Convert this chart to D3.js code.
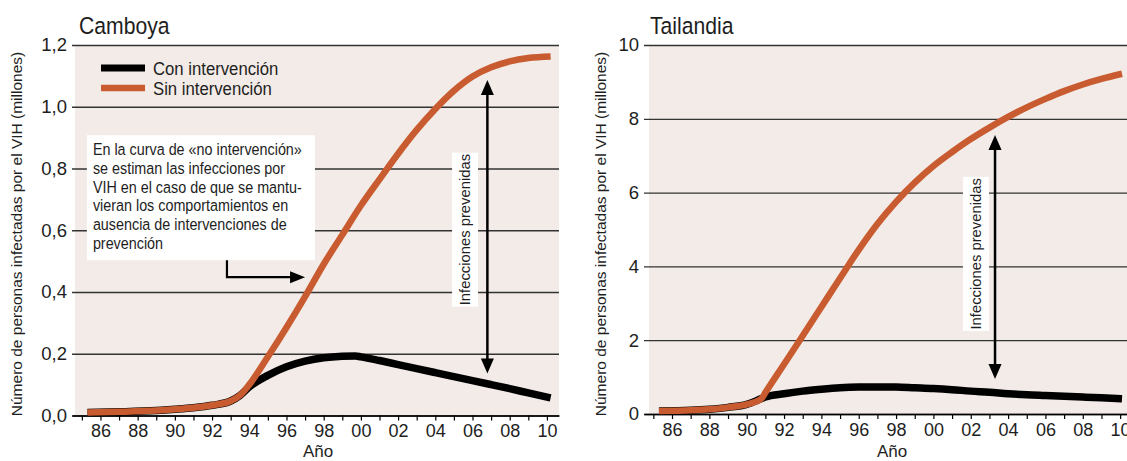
<!DOCTYPE html>
<html>
<head>
<meta charset="utf-8">
<script src="https://cdn.jsdelivr.net/npm/d3@7/dist/d3.min.js"></script>
<style>
  html, body { margin: 0; padding: 0; background: #ffffff; }
  svg { display: block; }
</style>
</head>
<body>
<svg id="chart" width="1127" height="461"></svg>
<script>
// ---------------- DATA ----------------
const xTickYears = d3.range(1985, 2011);
const xTickLabels = ["86","88","90","92","94","96","98","00","02","04","06","08","10"];
const xLabelYears = [1986,1988,1990,1992,1994,1996,1998,2000,2002,2004,2006,2008,2010];

const camYTicks = [0, 0.2, 0.4, 0.6, 0.8, 1.0, 1.2];
const camYLabels = ["0,0","0,2","0,4","0,6","0,8","1,0","1,2"];
const thaYTicks = [0, 2, 4, 6, 8, 10];
const thaYLabels = ["0","2","4","6","8","10"];

// Camboya - Sin intervención
const camSinYears = [1985.3,1987,1989,1990,1991,1992,1993,1993.5,1994,1995,1996,1997,1998,1999,2000,2001,2002,2003,2004,2005,2006,2007,2008,2009,2010.2];
const camSinValues = [0.01,0.012,0.016,0.02,0.025,0.033,0.047,0.065,0.1,0.19,0.285,0.385,0.49,0.585,0.68,0.765,0.848,0.925,0.993,1.052,1.098,1.128,1.147,1.158,1.163];
// Camboya - Con intervención
const camConYears = [1985.3,1987,1989,1990,1991,1992,1993,1993.5,1994,1995,1996,1997,1998,1999,1999.7,2000,2001,2002,2003,2004,2005,2006,2007,2008,2009,2010.2];
const camConValues = [0.01,0.012,0.016,0.02,0.025,0.033,0.047,0.065,0.093,0.13,0.158,0.176,0.187,0.192,0.193,0.19,0.178,0.165,0.152,0.139,0.126,0.113,0.1,0.087,0.073,0.057];

// Tailandia - Sin intervención
const thaSinYears = [1985.3,1987,1988,1989,1990,1990.8,1991,1992,1993,1994,1995,1996,1997,1998,1999,2000,2001,2002,2003,2004,2005,2006,2007,2008,2009,2010.1];
const thaSinValues = [0.08,0.1,0.13,0.18,0.26,0.42,0.58,1.35,2.12,2.9,3.68,4.45,5.15,5.75,6.27,6.72,7.1,7.45,7.76,8.05,8.31,8.54,8.75,8.93,9.08,9.22];
// Tailandia - Con intervención
const thaConYears = [1985.3,1987,1988,1989,1990,1990.8,1991,1992,1993,1994,1995,1996,1997,1998,1999,2000,2001,2002,2003,2004,2005,2006,2007,2008,2009,2010.1];
const thaConValues = [0.08,0.1,0.13,0.18,0.26,0.42,0.46,0.55,0.62,0.67,0.71,0.73,0.735,0.73,0.71,0.69,0.66,0.62,0.59,0.55,0.52,0.5,0.48,0.46,0.44,0.41];

const legendLabels = ["Con intervención", "Sin intervención"];
const annotationLines = [
  "En la curva de «no intervención»",
  "se estiman las infecciones por",
  "VIH en el caso de que se mantu-",
  "vieran los comportamientos en",
  "ausencia de intervenciones de",
  "prevención"
];

// ---------------- STYLE ----------------
const FONT = "'Liberation Sans', Arial, Helvetica, sans-serif";
const BG = "#f3ebe7";
const ORANGE = "#c85c30";
const GRID = "#333333";
const TXT = "#1e1e1e";

const svg = d3.select("#chart");

function zip(xs, ys) { return xs.map((x, i) => ({ x, y: ys[i] })); }

function addText(g, o) {
  return g.append("text")
    .attr("transform", `translate(${o.x},${o.y})${o.rotate ? " rotate(-90)" : ""} scale(${o.sx || 1},1)`)
    .attr("text-anchor", o.anchor || "start")
    .attr("font-family", FONT)
    .attr("font-size", o.size)
    .attr("fill", TXT)
    .text(o.text);
}

function drawPanel(cfg) {
  const g = svg.append("g");
  const x = d3.scaleLinear().domain(cfg.xDomain).range([cfg.axisLeft, cfg.axisRight]);
  const y = d3.scaleLinear().domain(cfg.yDomain).range([cfg.bottom, cfg.top]);

  // background
  g.append("rect")
    .attr("x", cfg.bgLeft).attr("y", y(cfg.yDomain[1]))
    .attr("width", cfg.axisRight - cfg.bgLeft)
    .attr("height", y(cfg.yDomain[0]) - y(cfg.yDomain[1]))
    .attr("fill", BG);

  // y gridlines + labels
  const yAxis = d3.axisLeft(y)
    .tickValues(cfg.yTicks)
    .tickFormat((d, i) => cfg.yLabels[i])
    .tickSize(-(cfg.axisRight - cfg.axisLeft))
    .tickPadding(5);
  const ya = g.append("g").attr("transform", `translate(${cfg.axisLeft},0)`).call(yAxis);
  ya.select(".domain").remove();
  ya.selectAll(".tick line").attr("stroke", GRID).attr("stroke-width", 1.3);
  ya.selectAll(".tick text").attr("font-family", FONT).attr("font-size", 18.5).attr("fill", TXT);

  // x axis
  const xAxis = d3.axisBottom(x)
    .tickValues(xTickYears)
    .tickFormat(d => { const i = xLabelYears.indexOf(d); return i >= 0 ? xTickLabels[i] : ""; })
    .tickSize(5).tickSizeOuter(0).tickPadding(4);
  const xa = g.append("g").attr("transform", `translate(0,${cfg.bottom})`).call(xAxis);
  xa.select(".domain").attr("stroke", "#000").attr("stroke-width", 1.6);
  xa.selectAll(".tick line").attr("stroke", "#000").attr("stroke-width", 1.2);
  xa.selectAll(".tick text").attr("font-family", FONT).attr("font-size", 18).attr("fill", TXT);

  // lines
  const line = d3.line().x(d => x(d.x)).y(d => y(d.y)).curve(d3.curveMonotoneX);
  g.append("path").datum(zip(cfg.conYears, cfg.conValues))
    .attr("d", line).attr("fill", "none").attr("stroke", "#000")
    .attr("stroke-width", 7.5).attr("stroke-linejoin", "round");
  g.append("path").datum(zip(cfg.sinYears, cfg.sinValues))
    .attr("d", line).attr("fill", "none").attr("stroke", ORANGE)
    .attr("stroke-width", 6.5).attr("stroke-linejoin", "round");

  // title
  addText(g, { x: cfg.titleX, y: 34, text: cfg.title, size: 23.5, sx: 0.9 });

  // y-axis title
  addText(g, { x: cfg.yTitleX, y: 234, text: "Número de personas infectadas por el VIH (millones)",
               size: 15.5, rotate: true, anchor: "middle" });

  // x-axis title
  addText(g, { x: cfg.xTitleX, y: 457, text: "Año", size: 17, anchor: "middle" });

  // double arrow "Infecciones prevenidas"
  const ax = x(cfg.arrowYear), aTop = y(cfg.arrowTop), aBot = y(cfg.arrowBottom);
  const hw = 6.5, hl = 15;
  g.append("line").attr("x1", ax).attr("x2", ax).attr("y1", aTop + hl - 2).attr("y2", aBot - hl + 2)
    .attr("stroke", "#000").attr("stroke-width", 2.5);
  g.append("path").attr("d", `M${ax},${aTop} L${ax - hw},${aTop + hl} L${ax + hw},${aTop + hl} Z`).attr("fill", "#000");
  g.append("path").attr("d", `M${ax},${aBot} L${ax - hw},${aBot - hl} L${ax + hw},${aBot - hl} Z`).attr("fill", "#000");

  const lx = x(cfg.labelYear), ly = y(cfg.labelValue);
  g.append("rect").attr("x", lx - 13).attr("y", ly - 77).attr("width", 26).attr("height", 154).attr("fill", "#fff");
  addText(g, { x: lx + 5, y: ly, text: "Infecciones prevenidas", size: 14.8, rotate: true, anchor: "middle" });

  return { g, x, y };
}

// -------- Camboya --------
const cam = drawPanel({
  title: "Camboya", titleX: 79,
  xDomain: [1984.47, 2010.65], axisLeft: 72, axisRight: 559, bgLeft: 75,
  yDomain: [0, 1.2], bottom: 415.5, top: 45,
  yTicks: camYTicks, yLabels: camYLabels,
  sinYears: camSinYears, sinValues: camSinValues,
  conYears: camConYears, conValues: camConValues,
  yTitleX: 22, xTitleX: 318,
  arrowYear: 2006.8, arrowTop: 1.087, arrowBottom: 0.136,
  labelYear: 2005.6, labelValue: 0.602
});

// legend
const lg = cam.g.append("g");
[["#000", 7], [ORANGE, 6.5]].forEach((s, i) => {
  const yy = 68 + i * 20;
  lg.append("line").attr("x1", 101).attr("x2", 145).attr("y1", yy).attr("y2", yy)
    .attr("stroke", s[0]).attr("stroke-width", s[1]);
  addText(lg, { x: 153, y: yy + 7, text: legendLabels[i], size: 19, sx: 0.88 });
});

// annotation box
{
  const x = cam.x, y = cam.y;
  const bx0 = x(1985.27), bx1 = x(1997.53), by0 = y(0.908), by1 = y(0.503);
  cam.g.append("rect").attr("x", bx0).attr("y", by0).attr("width", bx1 - bx0).attr("height", by1 - by0).attr("fill", "#fff");
  const ag = cam.g.append("g");
  annotationLines.forEach((d, i) => {
    addText(ag, { x: bx0 + 6, y: by0 + 20 + i * 18.7, text: d, size: 16.8, sx: 0.855 });
  });
  const cx = x(1992.8), cy = y(0.448), tip = x(1997.0);
  cam.g.append("path").attr("d", `M${cx},${by1} L${cx},${cy} L${tip - 14},${cy}`)
    .attr("fill", "none").attr("stroke", "#000").attr("stroke-width", 2.2);
  cam.g.append("path").attr("d", `M${tip},${cy} L${tip - 15},${cy - 6} L${tip - 15},${cy + 6} Z`).attr("fill", "#000");
}

// -------- Tailandia --------
drawPanel({
  title: "Tailandia", titleX: 650,
  xDomain: [1984.5, 2010.85], axisLeft: 644, axisRight: 1136, bgLeft: 649,
  yDomain: [0, 10], bottom: 414, top: 45,
  yTicks: thaYTicks, yLabels: thaYLabels,
  sinYears: thaSinYears, sinValues: thaSinValues,
  conYears: thaConYears, conValues: thaConValues,
  yTitleX: 606, xTitleX: 892,
  arrowYear: 2003.3, arrowTop: 7.56, arrowBottom: 0.95,
  labelYear: 2002.28, labelValue: 4.34
});
</script>
</body>
</html>
